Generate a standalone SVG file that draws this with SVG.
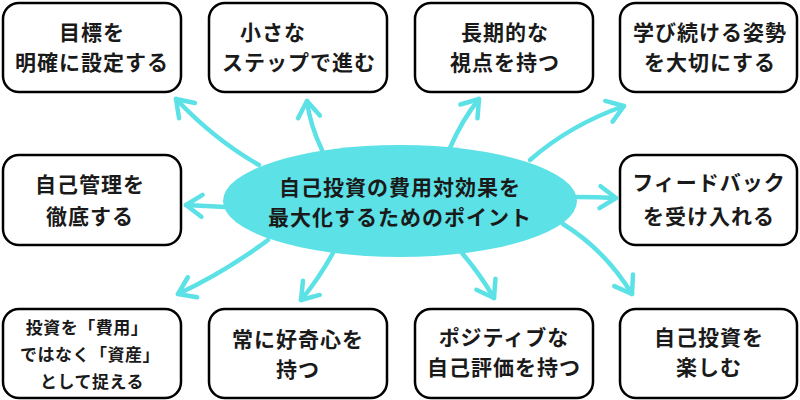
<svg xmlns="http://www.w3.org/2000/svg" width="800" height="400" viewBox="0 0 800 400">
<defs>
<style>
.box{fill:#fff;stroke:#000;stroke-width:2.5}
.t{font-family:"Noto Sans CJK JP","Noto Sans",sans-serif;font-weight:bold;font-size:21px;fill:#1a1a1a;text-anchor:middle;letter-spacing:1px}
.s{font-size:17px;letter-spacing:0.5px}
.arr{fill:none;stroke:#5ce1e6;stroke-width:4.5;stroke-linecap:round;marker-end:url(#ah)}
</style>
<marker id="ah" viewBox="-22 -16 26 32" markerWidth="26" markerHeight="32" refX="0" refY="0" orient="auto" markerUnits="userSpaceOnUse">
<path d="M-16,-11 L0,0 L-16,11" fill="none" stroke="#5ce1e6" stroke-width="4.5" stroke-linecap="round" stroke-linejoin="round"/>
</marker>
</defs>
<rect width="800" height="400" fill="#fff"/>
<g id="connectors">
<path class="arr" d="M259,165 Q215,140 176,99"/>
<path class="arr" d="M322,150 Q310,125 307,101"/>
<path class="arr" d="M450,148 Q462,120 479,99"/>
<path class="arr" d="M530,160 Q570,125 624,106"/>
<path class="arr" d="M225,207 Q205,206 186,205"/>
<path class="arr" d="M576,197 Q596,197 616,198"/>
<path class="arr" d="M268,240 Q225,272 178,294"/>
<path class="arr" d="M333,253 Q318,280 301,300"/>
<path class="arr" d="M462,253 Q480,274 494,298"/>
<path class="arr" d="M563,224 Q605,250 632,294"/>
</g>
<g id="center">
<ellipse cx="400" cy="201" rx="177" ry="56" fill="#5ce1e6"/>
<text class="t" x="400" y="195">自己投資の費用対効果を</text>
<text class="t" x="400" y="225">最大化するためのポイント</text>
</g>
<g id="n1">
<rect class="box" x="3" y="3" width="178" height="89" rx="16"/>
<text class="t" x="92" y="40">目標を</text>
<text class="t" x="92" y="70">明確に設定する</text>
</g>
<g id="n2">
<rect class="box" x="209" y="3" width="178" height="89" rx="16"/>
<text class="t" x="240" y="40" style="text-anchor:start">小さな</text>
<text class="t" x="299" y="70">ステップで進む</text>
</g>
<g id="n3">
<rect class="box" x="415" y="3" width="178" height="89" rx="16"/>
<text class="t" x="505" y="40">長期的な</text>
<text class="t" x="505" y="70">視点を持つ</text>
</g>
<g id="n4">
<rect class="box" x="620" y="3" width="177" height="89" rx="16"/>
<text class="t" x="710" y="40">学び続ける姿勢</text>
<text class="t" x="710" y="70">を大切にする</text>
</g>
<g id="n5">
<rect class="box" x="3" y="155" width="178" height="90" rx="16"/>
<text class="t" x="90" y="192">自己管理を</text>
<text class="t" x="90" y="224">徹底する</text>
</g>
<g id="n6">
<rect class="box" x="620" y="155" width="177" height="90" rx="16"/>
<text class="t" x="709" y="190">フィードバック</text>
<text class="t" x="709" y="224">を受け入れる</text>
</g>
<g id="n7">
<rect class="box" x="3" y="309" width="178" height="89" rx="16"/>
<text class="t s" x="87" y="334">投資を「費用」</text>
<text class="t s" x="90" y="361">ではなく「資産」</text>
<text class="t s" x="92" y="388">として捉える</text>
</g>
<g id="n8">
<rect class="box" x="209" y="309" width="178" height="89" rx="16"/>
<text class="t" x="298" y="347">常に好奇心を</text>
<text class="t" x="298" y="377">持つ</text>
</g>
<g id="n9">
<rect class="box" x="415" y="309" width="178" height="89" rx="16"/>
<text class="t" x="504" y="345">ポジティブな</text>
<text class="t" x="504" y="375">自己評価を持つ</text>
</g>
<g id="n10">
<rect class="box" x="620" y="309" width="177" height="89" rx="16"/>
<text class="t" x="709" y="345">自己投資を</text>
<text class="t" x="709" y="375">楽しむ</text>
</g>
</svg>
